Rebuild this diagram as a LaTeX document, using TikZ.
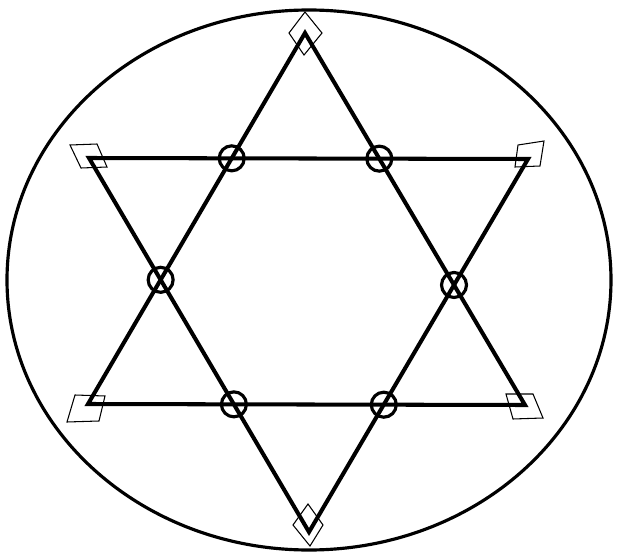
\documentclass[tikz,border=0pt]{standalone}
\usepackage{tikz}

\begin{document}
\begin{tikzpicture}[x=0.02cm, y=-0.02cm,
    edge/.style={line width=2.3pt, line join=miter},
    ring/.style={circle, draw, line width=1.8pt, minimum size=0.5cm, inner sep=0pt},
    tag/.style={line width=0.6pt}]

    \useasboundingbox (0,0) rectangle (620,558);

    \draw[line width=1.8pt] (309,280) ellipse [x radius=302, y radius=270];

    % the two triangles
    \coordinate (A) at (305,33);
    \coordinate (B) at (88,404);
    \coordinate (C) at (525,405);
    \coordinate (D) at (89,158);
    \coordinate (E) at (528,159);
    \coordinate (F) at (309,532);

    % vertex marks
    \draw[tag, shift={(A)}] (0,-21) -- (17,0) -- (-1,22) -- (-16,0) -- cycle;
    \draw[tag, shift={(D)}] (-19,-13) -- (8,-14) -- (18,9) -- (-8,10) -- cycle;
    \draw[tag, shift={(E)}] (-10,-14) -- (16,-18) -- (12,7) -- (-13,8) -- cycle;
    \draw[tag, shift={(B)}] (-13,-9) -- (17,-8) -- (11,17) -- (-21,18) -- cycle;
    \draw[tag, shift={(C)}] (-19,-11) -- (8,-11) -- (18,13) -- (-12,14) -- cycle;
    \draw[tag, shift={(F)}] (-1,-28) -- (14,-7) -- (1,14) -- (-16,-7) -- cycle;

    \draw[edge] (A) -- (B) -- (C) -- cycle;
    \draw[edge] (D) -- (E) -- (F) -- cycle;

    % crossings
    \node[ring] (p1) at (intersection of D--E and A--B) {};
    \node[ring] (p2) at (intersection of D--E and A--C) {};
    \node[ring] (p3) at (intersection of A--B and D--F) {};
    \node[ring] (p4) at (intersection of A--C and E--F) {};
    \node[ring] (p5) at (intersection of B--C and D--F) {};
    \node[ring] (p6) at (intersection of B--C and E--F) {};

\end{tikzpicture}
\end{document}
